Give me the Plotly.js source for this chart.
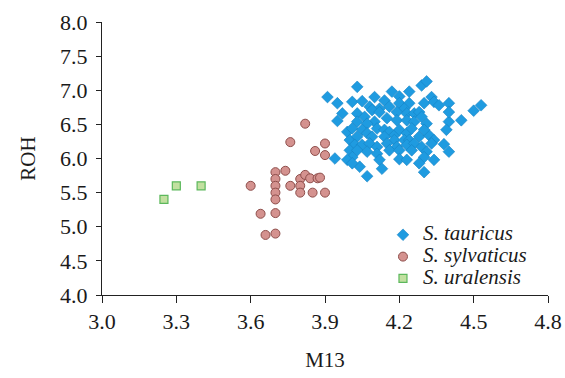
<!DOCTYPE html>
<html>
<head>
<meta charset="utf-8">
<script src="https://cdn.plot.ly/plotly-3.0.1.min.js"></script>
<style>html,body{margin:0;padding:0;background:#fff;}#chart{width:565px;height:378px;}</style>
</head>
<body>
<div id="chart"></div>
<script>
// S. tauricus
const tauricusX = [4.03,4.29,4.31,4.24,4.17,3.91,3.95,4.01,4.05,4.10,4.14,4.20,4.20,4.24,4.30,4.33,4.34,4.36,4.40,4.50,4.53,4.08,4.12,4.16,4.22,
  3.97,3.95,4.03,4.06,4.09,4.12,4.19,4.23,4.26,4.28,4.19,4.23,4.26,4.29,4.31,4.40,4.40,4.45,4.15,4.10,4.07,4.03,
  3.99,4.01,4.05,4.07,4.11,4.14,4.16,4.18,4.20,4.23,4.25,4.28,4.32,4.34,4.39,4.00,4.03,4.09,4.14,4.18,4.22,4.24,4.30,
  4.02,4.05,4.08,4.11,4.15,4.19,4.23,4.26,4.29,4.33,4.38,4.00,4.03,4.07,4.11,4.16,4.20,4.25,4.31,4.40,
  4.01,3.99,3.94,4.12,4.20,4.30,4.34,4.04,4.13,4.30,4.07,4.01,4.23,4.28];
const tauricusY = [7.05,7.07,7.13,6.98,6.98,6.90,6.81,6.83,6.84,6.90,6.85,6.91,6.81,6.81,6.81,6.90,6.83,6.78,6.81,6.70,6.78,6.76,6.73,6.76,6.73,
  6.66,6.55,6.66,6.61,6.71,6.68,6.68,6.66,6.66,6.68,6.56,6.56,6.54,6.61,6.51,6.54,6.68,6.56,6.59,6.54,6.51,6.54,
  6.39,6.44,6.42,6.37,6.44,6.42,6.39,6.34,6.42,6.37,6.44,6.32,6.34,6.27,6.42,6.27,6.32,6.32,6.32,6.27,6.27,6.27,6.42,
  6.20,6.20,6.22,6.17,6.22,6.17,6.20,6.22,6.17,6.22,6.21,6.12,6.12,6.10,6.07,6.12,6.12,6.12,6.10,6.10,
  6.02,5.98,6.00,5.98,5.99,6.02,5.98,5.88,5.85,5.80,5.74,5.93,5.98,5.93];
// S. sylvaticus
const sylvaticusX = [3.82,3.76,3.90,3.86,3.90,3.70,3.70,3.70,3.70,3.70,3.74,3.60,3.76,3.80,3.80,3.80,3.82,3.84,3.87,3.88,3.85,3.90,3.64,3.70,3.66,3.70];
const sylvaticusY = [6.51,6.24,6.22,6.11,6.05,5.80,5.70,5.60,5.50,5.40,5.82,5.60,5.60,5.70,5.60,5.50,5.76,5.71,5.71,5.72,5.50,5.50,5.19,5.20,4.88,4.90];
// S. uralensis
const uralensisX = [3.25,3.30,3.40];
const uralensisY = [5.40,5.60,5.60];

const seriesNames = ['S. tauricus','S. sylvaticus','S. uralensis'];
const xTitle = 'M13';
const yTitle = 'ROH';

const fontFam = '"Liberation Serif", "Times New Roman", serif';
const big = s => '<span style="font-size:21px">' + s + '</span>';

const traces = [
  {x: tauricusX, y: tauricusY, mode: 'markers', type: 'scatter', name: big(seriesNames[0]),
   marker: {symbol: 'diamond', size: 9, color: '#1f9be0', line: {color: '#1583c4', width: 0.6}}},
  {x: sylvaticusX, y: sylvaticusY, mode: 'markers', type: 'scatter', name: big(seriesNames[1]),
   marker: {symbol: 'circle', size: 9, color: '#d4928f', line: {color: '#8e4e4b', width: 1}}},
  {x: uralensisX, y: uralensisY, mode: 'markers', type: 'scatter', name: big(seriesNames[2]),
   marker: {symbol: 'square', size: 8, color: '#c2e0a0', line: {color: '#5cb85c', width: 1.2}}}
];

const layout = {
  width: 565, height: 378,
  margin: {l: 102, r: 17, t: 22, b: 83},
  paper_bgcolor: '#fff', plot_bgcolor: '#fff',
  font: {family: fontFam, size: 21, color: '#1a1a1a'},
  showlegend: true,
  legend: {x: 0.63, y: 0.279, xanchor: 'left', yanchor: 'top', bgcolor: 'rgba(0,0,0,0)',
           font: {family: fontFam, size: 14.5, style: 'italic', color: '#1a1a1a'},
           tracegroupgap: 0, itemwidth: 30},
  xaxis: {range: [3.0, 4.8], dtick: 0.3, tick0: 3.0, tickformat: '.1f', showgrid: false, zeroline: false,
          showline: true, linecolor: '#222', linewidth: 1, ticks: 'outside', ticklen: 7, tickcolor: '#222',
          tickfont: {family: fontFam, size: 22}, title: {text: xTitle, font: {family: fontFam, size: 21}, standoff: 18}},
  yaxis: {range: [4.0, 8.0], dtick: 0.5, tick0: 4.0, tickformat: '.1f', showgrid: false, zeroline: false,
          showline: true, linecolor: '#222', linewidth: 1, ticks: 'outside', ticklen: 5, tickcolor: '#222',
          ticklabelstandoff: 4,
          tickfont: {family: fontFam, size: 22}, title: {text: yTitle, font: {family: fontFam, size: 21}, standoff: 18}}
};

Plotly.newPlot('chart', traces, layout, {displayModeBar: false, staticPlot: true});
</script>
</body>
</html>
